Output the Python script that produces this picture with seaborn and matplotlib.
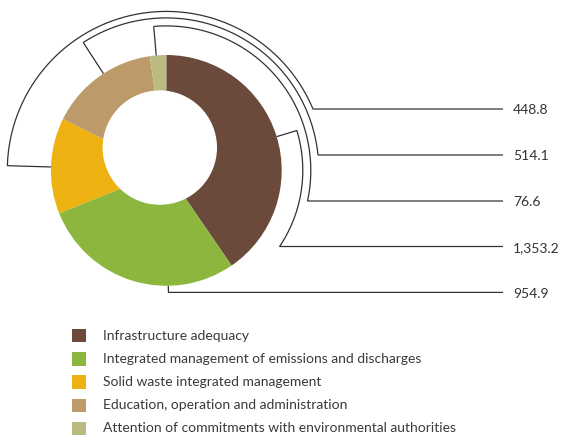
import numpy as np
import matplotlib
matplotlib.use("Agg")
import matplotlib.pyplot as plt
from matplotlib.patches import Circle, Rectangle
import seaborn as sns

# Budget by programme line (millions)
categories = [
    "Infrastructure adequacy",
    "Integrated management of emissions and discharges",
    "Solid waste integrated management",
    "Education, operation and administration",
    "Attention of commitments with environmental authorities",
]
values = [1353.2, 954.9, 448.8, 514.1, 76.6]
value_labels = ["1,353.2", "954.9", "448.8", "514.1", "76.6"]
colors = ["#6C4A3B", "#8DB63F", "#EDB212", "#BD9A69", "#BABB81"]

sns.set_theme(style="white")
plt.rcParams["font.family"] = ["Lato", "DejaVu Sans"]
palette = sns.color_palette(colors)

W, H = 561, 441
fig = plt.figure(figsize=(W / 100, H / 100), dpi=100)
ax = fig.add_axes([0, 0, 1, 1])

# work in pixel-like units, y measured downward from the top edge
def py(y):
    return H - y

cx, cy = 166.3, 170.4          # donut centre
r_out = 115.4                   # donut outer radius
hole_c = (159.8, 147.6)         # the hole sits a little up and to the left
r_hole = 56.5

ax.pie(values, colors=palette, startangle=90, counterclock=False,
       radius=r_out, center=(cx, py(cy)), frame=False,
       wedgeprops=dict(linewidth=0))
ax.add_patch(Circle((hole_c[0], py(hole_c[1])), r_hole, color="white", zorder=3))

# leader layout per category: tick angle (deg), bracket radius, row y
leader = {
    "Infrastructure adequacy": (17.0, 136.5, 246.5),
    "Integrated management of emissions and discharges": (-89.0, 122.0, 292.0),
    "Solid waste integrated management": (178.3, 159.0, 109.0),
    "Education, operation and administration": (123.0, 152.5, 155.0),
    "Attention of commitments with environmental authorities": (95.0, 144.5, 201.0),
}
line_end_x = 503
text_x = 513
ink = "#333333"

for cat, lab in zip(categories, value_labels):
    a0, r, yrow = leader[cat]
    a0r = np.deg2rad(a0)
    # angle on the bracket circle where it meets the row line
    s = np.clip((cy - yrow) / r, -1, 1)
    a1 = np.arcsin(s)
    if a1 > a0r:
        a1 = a0r
    if cat.startswith("Integrated"):
        a1 = a0r
    th = np.linspace(a0r, a1, 200)
    xs = [cx + r_out * np.cos(a0r)] + list(cx + r * np.cos(th))
    ys = [cy - r_out * np.sin(a0r)] + list(cy - r * np.sin(th))
    xs.append(line_end_x)
    ys.append(ys[-1])
    ax.plot(xs, [py(v) for v in ys], color=ink, lw=0.9, solid_capstyle="butt",
            solid_joinstyle="miter", zorder=4)
    ax.text(text_x, py(ys[-1] + 1.5), lab, fontsize=10, color=ink,
            va="center", ha="left")

# legend
leg_x, leg_y0, leg_dy, sq = 72.3, 335.7, 23.2, 13.5
for i, (cat, col) in enumerate(zip(categories, palette)):
    yc = leg_y0 + i * leg_dy
    ax.add_patch(Rectangle((leg_x, py(yc + sq / 2)), sq, sq, color=col, lw=0))
    ax.text(103.3, py(yc), cat, fontsize=10, color="#3a3a3a",
            va="center", ha="left")

ax.set_xlim(0, W)
ax.set_ylim(0, H)
ax.set_aspect("equal")
ax.axis("off")
fig.savefig("out.png", dpi=100)
